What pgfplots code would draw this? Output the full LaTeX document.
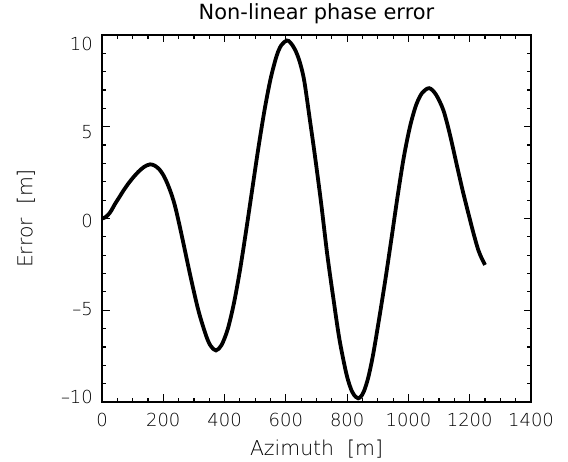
\documentclass[border=0pt]{standalone}
\usepackage{fontspec}
\setmainfont{DejaVu Sans ExtraLight}
\newfontfamily\titlefont{DejaVu Sans}
\usepackage{pgfplots}
\pgfplotsset{compat=1.18}
\begin{document}
\begin{tikzpicture}[x=1bp,y=1bp]
\begin{axis}[
    at={(0,0)}, anchor=south west,
    scale only axis,
    width=429bp, height=367bp,
    xmin=0, xmax=1400,
    ymin=-10, ymax=10,
    xtick={0,200,...,1400},
    ytick={-10,-5,0,5,10},
    yticklabels={–10,–5,0,5,10},
    minor x tick num=3,
    minor y tick num=4,
    tick align=inside,
    major tick length=7.5bp,
    minor tick length=4bp,
    axis line style={line width=1.7bp},
    every tick/.style={black, line width=1.2bp},
    /pgf/number format/assume math mode=true,
    /pgf/number format/1000 sep={},
    tick label style={font=\fontsize{18}{18}\selectfont, text=black, inner sep=0pt},
    xticklabel style={anchor=north, yshift=-11bp},
    yticklabel style={anchor=east, xshift=-9bp, yshift={-2bp-3.5bp*(\ticknum-2)}},
    title={Non-linear phase error},
    title style={font=\titlefont\fontsize{21}{21}\selectfont, anchor=base, at={(0.5,1)}, yshift=10bp},
    xlabel={Azimuth\ \ [m]},
    ylabel={Error\ \ [m]},
    label style={font=\fontsize{20.5}{20.5}\selectfont, text=black},
    xlabel style={at={(0.5,0)}, anchor=base, yshift=-53bp},
    ylabel style={at={(0,0.5)}, anchor=center, yshift=76bp},
]
\addplot[black, line width=3.8bp, smooth, tension=0.5] coordinates {
    (0,0) (10,0.06) (20,0.2) (30,0.42) (42,0.78) (55,1.12) (70,1.52)
    (85,1.88) (100,2.2) (119,2.55) (138,2.82) (157,2.95) (172,2.88)
    (187,2.68) (200,2.37) (212,1.96) (225,1.4) (238,0.7) (252,-0.3)
    (265,-1.3) (290,-3.25) (315,-5.04) (340,-6.4) (355,-6.95) (372,-7.19)
    (390,-6.9) (410,-6.05) (430,-4.66) (450,-2.84) (470,-0.7) (490,1.56)
    (510,3.81) (530,5.87) (550,7.6) (570,8.87) (585,9.44) (603,9.7)
    (615,9.58) (630,9.2) (645,8.55) (660,7.5) (679,5.3) (695,3.4)
    (715,0.85) (735,-1.95) (755,-4.35) (775,-6.6) (798,-8.5) (815,-9.4)
    (828,-9.72) (836,-9.8) (845,-9.7) (855,-9.41) (869,-8.66) (885,-7.39)
    (905,-5.4) (925,-3.3) (945,-1.05) (965,1.25) (985,3.35) (1005,5.0)
    (1025,6.18) (1045,6.85) (1068,7.1) (1090,6.75) (1114,5.9) (1135,4.6)
    (1158,2.9) (1178,1.45) (1196,0.25) (1213,-0.85) (1228,-1.72)
    (1240,-2.2) (1250,-2.53)
};
\end{axis}
\pgfresetboundingbox
\path[use as bounding box] (-102,-60) rectangle (466,402);
\end{tikzpicture}
\end{document}
